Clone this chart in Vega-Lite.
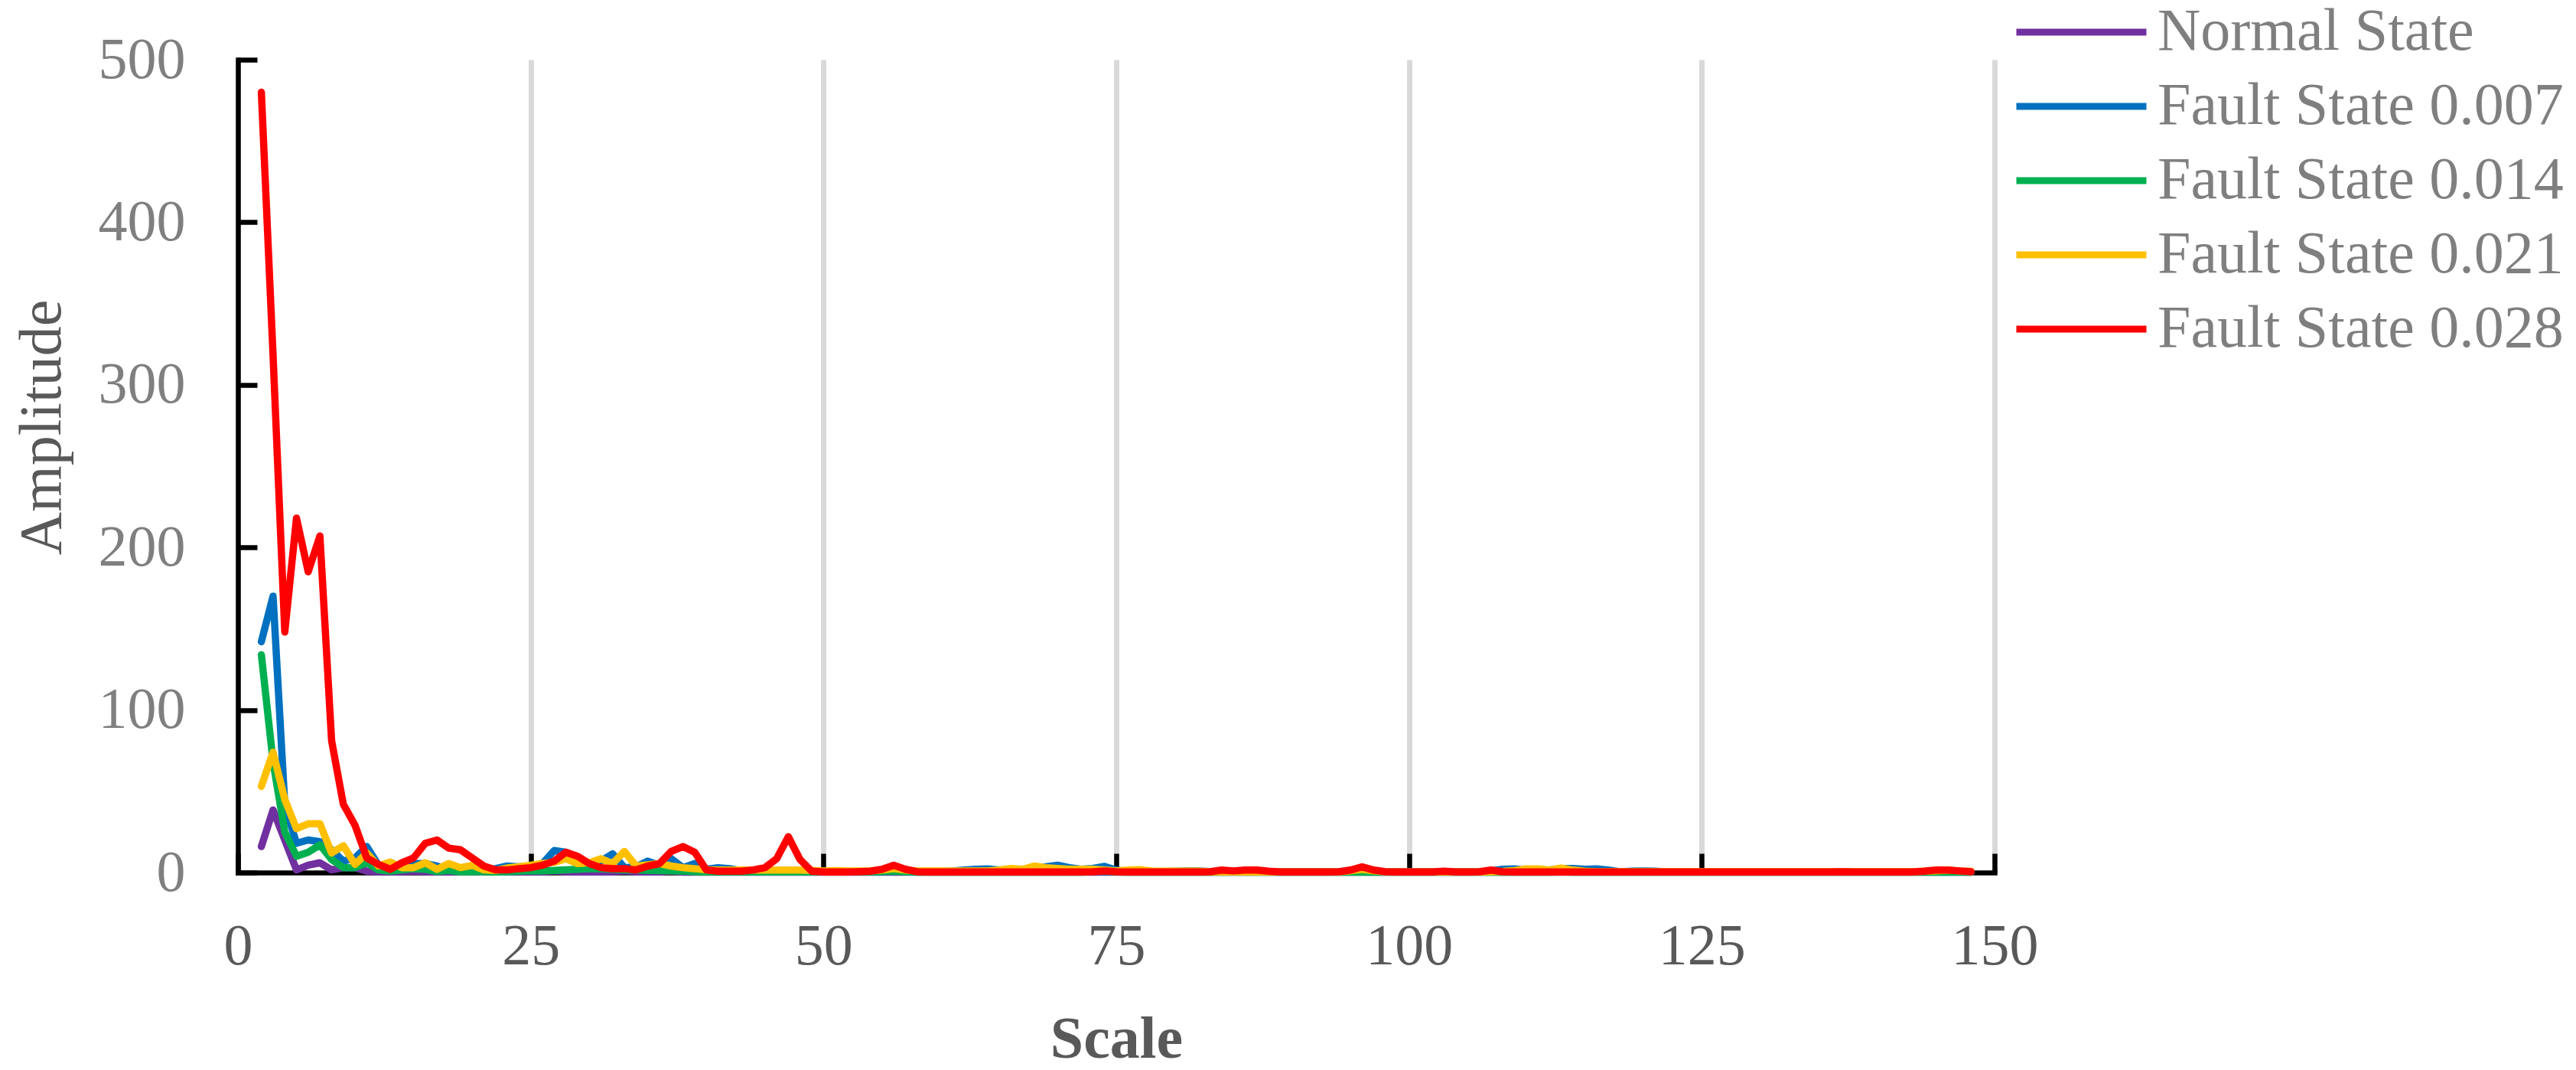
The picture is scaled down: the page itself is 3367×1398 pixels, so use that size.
{"$schema": "https://vega.github.io/schema/vega-lite/v6.json",
  "width": 2296,
  "height": 1062,
  "autosize": {"type": "none"},
  "padding": {"left": 311, "top": 78, "right": 760, "bottom": 258},
  "background": "white",
  "config": {"view": {"stroke": null}, "font": "Liberation Serif"},

  "encoding": {
    "x": {"field": "x", "type": "quantitative", "title": "Scale",
      "scale": {"domain": [0, 150], "nice": false},
      "axis": {"values": [0, 25, 50, 75, 100, 125, 150], "grid": true, "gridColor": "#d9d9d9", "gridWidth": 7,
        "domainColor": "#000000", "domainWidth": 6.5, "domainCap": "square",
        "tickColor": "#000000", "tickWidth": 6.5, "tickSize": -25,
        "labelPadding": 84, "labelFont": "Liberation Serif", "labelFontSize": 76, "labelColor": "#595959",
        "labelFlush": false, "labelOverlap": false,
        "titleFont": "Liberation Serif", "titleFontSize": 78, "titleFontWeight": "bold", "titleColor": "#595959",
        "titleY": 241, "titleBaseline": "alphabetic", "zindex": 0}},
    "y": {"field": "y", "type": "quantitative", "title": "Amplitude",
      "scale": {"domain": [0, 500], "nice": false},
      "axis": {"values": [0, 100, 200, 300, 400, 500], "grid": false,
        "domainColor": "#000000", "domainWidth": 6.5, "domainCap": "square",
        "tickColor": "#000000", "tickWidth": 6.5, "tickSize": -25,
        "labelPadding": 94, "labelFont": "Liberation Serif", "labelFontSize": 76, "labelColor": "#7f7f7f",
        "titleFont": "Liberation Serif", "titleFontSize": 78, "titleFontWeight": "normal", "titleColor": "#595959",
        "titleAngle": -90, "titleX": -233, "titleY": 480, "titleBaseline": "alphabetic", "zindex": 0}}
  },

  "layer": [
    {"data": {"values": [
      {"x":2,"y":16},{"x":3,"y":38.5},{"x":4,"y":20},{"x":5,"y":1.6},{"x":6,"y":4.5},{"x":7,"y":6},{"x":8,"y":1.6},{"x":9,"y":3},{"x":10,"y":3},
      {"x":11,"y":0.8},{"x":12,"y":0.5},{"x":13,"y":0.3},{"x":14,"y":0.5},{"x":15,"y":0.8},{"x":16,"y":0.5},{"x":17,"y":0.3},{"x":18,"y":0.3},{"x":19,"y":0.3},{"x":20,"y":0.3},
      {"x":21,"y":0.3},{"x":22,"y":0.3},{"x":23,"y":0.3},{"x":24,"y":0.3},{"x":25,"y":0.3},{"x":26,"y":0.3},{"x":27,"y":1},{"x":28,"y":0.5},{"x":29,"y":0.3},{"x":30,"y":0.3},
      {"x":31,"y":0.3},{"x":32,"y":0.3},{"x":33,"y":1},{"x":34,"y":0.3},{"x":35,"y":0.3},{"x":36,"y":0.3},{"x":37,"y":1},{"x":38,"y":0.2},{"x":39,"y":0.2},{"x":40,"y":0.2},
      {"x":41,"y":0.2},{"x":42,"y":0.2},{"x":43,"y":0.2},{"x":44,"y":0.2},{"x":45,"y":0.2},{"x":46,"y":0.2},{"x":47,"y":0.2},{"x":48,"y":0.2},{"x":49,"y":0.2},{"x":50,"y":0.2},
      {"x":51,"y":0.2},{"x":52,"y":0.2},{"x":53,"y":0.2},{"x":54,"y":0.2},{"x":55,"y":0.2},{"x":56,"y":0.2},{"x":57,"y":0.2},{"x":58,"y":0.2},{"x":59,"y":0.2},{"x":60,"y":0.2},
      {"x":61,"y":0.2},{"x":62,"y":0.2},{"x":63,"y":0.2},{"x":64,"y":0.2},{"x":65,"y":0.2},{"x":66,"y":0.2},{"x":67,"y":0.2},{"x":68,"y":0.2},{"x":69,"y":0.2},{"x":70,"y":0.2},
      {"x":71,"y":0.2},{"x":72,"y":0.2},{"x":73,"y":0.2},{"x":74,"y":0.2},{"x":75,"y":0.2},{"x":76,"y":0.2},{"x":77,"y":0.2},{"x":78,"y":0.2},{"x":79,"y":0.2},{"x":80,"y":0.2},
      {"x":81,"y":0.2},{"x":82,"y":0.2},{"x":83,"y":0.2},{"x":84,"y":0.2},{"x":85,"y":0.2},{"x":86,"y":0.2},{"x":87,"y":0.2},{"x":88,"y":0.2},{"x":89,"y":0.2},{"x":90,"y":0.2},
      {"x":91,"y":0.2},{"x":92,"y":0.2},{"x":93,"y":0.2},{"x":94,"y":0.2},{"x":95,"y":0.2},{"x":96,"y":0.2},{"x":97,"y":0.2},{"x":98,"y":0.2},{"x":99,"y":0.2},{"x":100,"y":0.2},
      {"x":101,"y":0.2},{"x":102,"y":0.2},{"x":103,"y":0.2},{"x":104,"y":0.2},{"x":105,"y":0.2},{"x":106,"y":0.2},{"x":107,"y":0.2},{"x":108,"y":0.2},{"x":109,"y":0.2},{"x":110,"y":0.2},
      {"x":111,"y":0.2},{"x":112,"y":0.2},{"x":113,"y":0.2},{"x":114,"y":0.2},{"x":115,"y":0.2},{"x":116,"y":0.2},{"x":117,"y":0.2},{"x":118,"y":0.2},{"x":119,"y":0.2},{"x":120,"y":0.2},
      {"x":121,"y":0.2},{"x":122,"y":0.2},{"x":123,"y":0.2},{"x":124,"y":0.2},{"x":125,"y":0.2},{"x":126,"y":0.2},{"x":127,"y":0.2},{"x":128,"y":0.2},{"x":129,"y":0.2},{"x":130,"y":0.2},
      {"x":131,"y":0.2},{"x":132,"y":0.2},{"x":133,"y":0.2},{"x":134,"y":0.2},{"x":135,"y":0.2},{"x":136,"y":0.2},{"x":137,"y":0.2},{"x":138,"y":0.2},{"x":139,"y":0.2},{"x":140,"y":0.2},
      {"x":141,"y":0.2},{"x":142,"y":0.2},{"x":143,"y":0.2},{"x":144,"y":0.2},{"x":145,"y":0.2},{"x":146,"y":0.2},{"x":147,"y":0.2},{"x":148,"y":0.2}]},
     "mark": {"type": "line", "strokeWidth": 9.5, "strokeCap": "round", "strokeJoin": "round"},
     "encoding": {"color": {"datum": "Normal State", "type": "nominal",
       "scale": {"domain": ["Normal State", "Fault State 0.007", "Fault State 0.014", "Fault State 0.021", "Fault State 0.028"],
                 "range": ["#7030A0", "#0070C0", "#00B050", "#FFC000", "#FF0000"]},
       "legend": {"orient": "none", "legendX": 2320, "legendY": -76, "title": null, "padding": 0,
         "symbolType": "stroke", "symbolSize": 28900, "symbolStrokeWidth": 9,
         "labelFont": "Liberation Serif", "labelFontSize": 78, "labelColor": "#7f7f7f", "labelOffset": 10, "labelLimit": 0,
         "rowPadding": 17, "clipHeight": 80}}}},

    {"data": {"values": [
      {"x":2,"y":142},{"x":3,"y":170},{"x":4,"y":42},{"x":5,"y":18},{"x":6,"y":20},{"x":7,"y":19},{"x":8,"y":14},{"x":9,"y":7},{"x":10,"y":9},
      {"x":11,"y":16},{"x":12,"y":4.5},{"x":13,"y":3},{"x":14,"y":4.5},{"x":15,"y":5.5},{"x":16,"y":5.5},{"x":17,"y":4},{"x":18,"y":1.6},{"x":19,"y":1.2},{"x":20,"y":1},
      {"x":21,"y":1.5},{"x":22,"y":2.4},{"x":23,"y":4},{"x":24,"y":3.5},{"x":25,"y":4},{"x":26,"y":5.5},{"x":27,"y":13.5},{"x":28,"y":12.5},{"x":29,"y":7},{"x":30,"y":4.5},
      {"x":31,"y":7},{"x":32,"y":11.5},{"x":33,"y":3},{"x":34,"y":3.5},{"x":35,"y":7},{"x":36,"y":4.5},{"x":37,"y":8.5},{"x":38,"y":3},{"x":39,"y":5.5},{"x":40,"y":2},
      {"x":41,"y":3},{"x":42,"y":2.4},{"x":43,"y":1},{"x":44,"y":1},{"x":45,"y":0.8},{"x":46,"y":0.6},{"x":47,"y":0.5},{"x":48,"y":0.5},{"x":49,"y":0.5},{"x":50,"y":0.5},
      {"x":51,"y":0.4},{"x":52,"y":0.4},{"x":53,"y":0.5},{"x":54,"y":0.5},{"x":55,"y":0.6},{"x":56,"y":0.8},{"x":57,"y":0.6},{"x":58,"y":0.5},{"x":59,"y":0.5},{"x":60,"y":0.6},
      {"x":61,"y":1},{"x":62,"y":1.5},{"x":63,"y":2},{"x":64,"y":2.2},{"x":65,"y":1.5},{"x":66,"y":1},{"x":67,"y":1.5},{"x":68,"y":2.5},{"x":69,"y":3.5},{"x":70,"y":4.5},
      {"x":71,"y":3},{"x":72,"y":2},{"x":73,"y":2.5},{"x":74,"y":3.8},{"x":75,"y":1.5},{"x":76,"y":0.5},{"x":77,"y":0.5},{"x":78,"y":0.4},{"x":79,"y":0.5},{"x":80,"y":0.7},
      {"x":81,"y":1},{"x":82,"y":1},{"x":83,"y":0.6},{"x":84,"y":0.5},{"x":85,"y":0.4},{"x":86,"y":0.4},{"x":87,"y":0.4},{"x":88,"y":0.4},{"x":89,"y":0.4},{"x":90,"y":0.4},
      {"x":91,"y":0.4},{"x":92,"y":0.4},{"x":93,"y":0.4},{"x":94,"y":0.4},{"x":95,"y":0.4},{"x":96,"y":0.4},{"x":97,"y":0.4},{"x":98,"y":0.4},{"x":99,"y":0.4},{"x":100,"y":0.4},
      {"x":101,"y":0.4},{"x":102,"y":0.4},{"x":103,"y":0.4},{"x":104,"y":0.4},{"x":105,"y":0.4},{"x":106,"y":0.4},{"x":107,"y":1},{"x":108,"y":2},{"x":109,"y":2.2},{"x":110,"y":1.5},
      {"x":111,"y":1},{"x":112,"y":1.5},{"x":113,"y":2.5},{"x":114,"y":2.5},{"x":115,"y":2},{"x":116,"y":2.2},{"x":117,"y":1.5},{"x":118,"y":0.5},{"x":119,"y":0.8},{"x":120,"y":1},
      {"x":121,"y":0.8},{"x":122,"y":0.3},{"x":123,"y":0.3},{"x":124,"y":0.3},{"x":125,"y":0.3},{"x":126,"y":0.3},{"x":127,"y":0.3},{"x":128,"y":0.3},{"x":129,"y":0.3},{"x":130,"y":0.3},
      {"x":131,"y":0.3},{"x":132,"y":0.3},{"x":133,"y":0.3},{"x":134,"y":0.3},{"x":135,"y":0.3},{"x":136,"y":0.3},{"x":137,"y":0.3},{"x":138,"y":0.3},{"x":139,"y":0.3},{"x":140,"y":0.3},
      {"x":141,"y":0.3},{"x":142,"y":0.3},{"x":143,"y":0.3},{"x":144,"y":0.3},{"x":145,"y":0.3},{"x":146,"y":0.3},{"x":147,"y":0.3},{"x":148,"y":0.3}]},
     "mark": {"type": "line", "strokeWidth": 9.5, "strokeCap": "round", "strokeJoin": "round"},
     "encoding": {"color": {"datum": "Fault State 0.007", "type": "nominal"}}},

    {"data": {"values": [
      {"x":2,"y":134},{"x":3,"y":68},{"x":4,"y":25},{"x":5,"y":10},{"x":6,"y":12.5},{"x":7,"y":17},{"x":8,"y":8},{"x":9,"y":3},{"x":10,"y":3},
      {"x":11,"y":6},{"x":12,"y":1.6},{"x":13,"y":0.8},{"x":14,"y":1.6},{"x":15,"y":2.4},{"x":16,"y":2},{"x":17,"y":0.6},{"x":18,"y":1.3},{"x":19,"y":0.3},{"x":20,"y":0.5},
      {"x":21,"y":0.5},{"x":22,"y":0.3},{"x":23,"y":0.5},{"x":24,"y":0.8},{"x":25,"y":1},{"x":26,"y":1},{"x":27,"y":1.3},{"x":28,"y":1.6},{"x":29,"y":2},{"x":30,"y":2.4},
      {"x":31,"y":2.4},{"x":32,"y":2},{"x":33,"y":1.6},{"x":34,"y":1.6},{"x":35,"y":1.3},{"x":36,"y":1.2},{"x":37,"y":1},{"x":38,"y":0.8},{"x":39,"y":0.5},{"x":40,"y":0.3},
      {"x":41,"y":0.3},{"x":42,"y":0.3},{"x":43,"y":0.3},{"x":44,"y":0.3},{"x":45,"y":0.3},{"x":46,"y":0.3},{"x":47,"y":0.3},{"x":48,"y":0.3},{"x":49,"y":0.3},{"x":50,"y":0.3},
      {"x":51,"y":0.3},{"x":52,"y":0.3},{"x":53,"y":0.3},{"x":54,"y":0.3},{"x":55,"y":0.6},{"x":56,"y":0.8},{"x":57,"y":0.5},{"x":58,"y":0.2},{"x":59,"y":0.2},{"x":60,"y":0.2},
      {"x":61,"y":0.2},{"x":62,"y":0.2},{"x":63,"y":0.2},{"x":64,"y":0.2},{"x":65,"y":0.2},{"x":66,"y":0.2},{"x":67,"y":0.2},{"x":68,"y":0.2},{"x":69,"y":0.2},{"x":70,"y":0.2},
      {"x":71,"y":0.2},{"x":72,"y":0.2},{"x":73,"y":0.6},{"x":74,"y":0.8},{"x":75,"y":0.4},{"x":76,"y":0.2},{"x":77,"y":0.2},{"x":78,"y":0.2},{"x":79,"y":0.2},{"x":80,"y":0.2},
      {"x":81,"y":0.2},{"x":82,"y":0.2},{"x":83,"y":0.2},{"x":84,"y":0.2},{"x":85,"y":0.2},{"x":86,"y":0.2},{"x":87,"y":0.2},{"x":88,"y":0.2},{"x":89,"y":0.2},{"x":90,"y":0.2},
      {"x":91,"y":0.2},{"x":92,"y":0.2},{"x":93,"y":0.2},{"x":94,"y":0.2},{"x":95,"y":0.2},{"x":96,"y":0.2},{"x":97,"y":0.2},{"x":98,"y":0.2},{"x":99,"y":0.2},{"x":100,"y":0.2},
      {"x":101,"y":0.2},{"x":102,"y":0.2},{"x":103,"y":0.2},{"x":104,"y":0.2},{"x":105,"y":0.2},{"x":106,"y":0.2},{"x":107,"y":0.2},{"x":108,"y":0.2},{"x":109,"y":0.2},{"x":110,"y":0.2},
      {"x":111,"y":0.2},{"x":112,"y":0.2},{"x":113,"y":0.5},{"x":114,"y":0.2},{"x":115,"y":0.2},{"x":116,"y":0.2},{"x":117,"y":0.2},{"x":118,"y":0.2},{"x":119,"y":0.2},{"x":120,"y":0.2},
      {"x":121,"y":0.2},{"x":122,"y":0.2},{"x":123,"y":0.2},{"x":124,"y":0.2},{"x":125,"y":0.2},{"x":126,"y":0.2},{"x":127,"y":0.2},{"x":128,"y":0.2},{"x":129,"y":0.2},{"x":130,"y":0.2},
      {"x":131,"y":0.2},{"x":132,"y":0.2},{"x":133,"y":0.2},{"x":134,"y":0.2},{"x":135,"y":0.2},{"x":136,"y":0.2},{"x":137,"y":0.2},{"x":138,"y":0.2},{"x":139,"y":0.2},{"x":140,"y":0.2},
      {"x":141,"y":0.2},{"x":142,"y":0.2},{"x":143,"y":0.2},{"x":144,"y":0.2},{"x":145,"y":0.2},{"x":146,"y":0.2},{"x":147,"y":0.2},{"x":148,"y":0.2}]},
     "mark": {"type": "line", "strokeWidth": 9.5, "strokeCap": "round", "strokeJoin": "round"},
     "encoding": {"color": {"datum": "Fault State 0.014", "type": "nominal"}}},

    {"data": {"values": [
      {"x":2,"y":53},{"x":3,"y":74},{"x":4,"y":45},{"x":5,"y":27},{"x":6,"y":30},{"x":7,"y":30},{"x":8,"y":12},{"x":9,"y":16.5},{"x":10,"y":5},
      {"x":11,"y":12},{"x":12,"y":4},{"x":13,"y":6.5},{"x":14,"y":3},{"x":15,"y":3},{"x":16,"y":6},{"x":17,"y":2},{"x":18,"y":5.5},{"x":19,"y":3},{"x":20,"y":4.4},
      {"x":21,"y":1.6},{"x":22,"y":1.3},{"x":23,"y":2.8},{"x":24,"y":3.5},{"x":25,"y":4.5},{"x":26,"y":5.5},{"x":27,"y":6.3},{"x":28,"y":8.5},{"x":29,"y":5.5},{"x":30,"y":6},
      {"x":31,"y":8.5},{"x":32,"y":5.5},{"x":33,"y":13},{"x":34,"y":4},{"x":35,"y":4.7},{"x":36,"y":5.5},{"x":37,"y":4},{"x":38,"y":3},{"x":39,"y":2.4},{"x":40,"y":1.6},
      {"x":41,"y":1.5},{"x":42,"y":1.5},{"x":43,"y":1.5},{"x":44,"y":1.5},{"x":45,"y":1.5},{"x":46,"y":1.5},{"x":47,"y":1.5},{"x":48,"y":1.5},{"x":49,"y":1.3},{"x":50,"y":1},
      {"x":51,"y":1.2},{"x":52,"y":1},{"x":53,"y":1},{"x":54,"y":1},{"x":55,"y":1.5},{"x":56,"y":2.5},{"x":57,"y":1.5},{"x":58,"y":1},{"x":59,"y":1},{"x":60,"y":1},
      {"x":61,"y":1},{"x":62,"y":1},{"x":63,"y":1},{"x":64,"y":1},{"x":65,"y":1.5},{"x":66,"y":2.5},{"x":67,"y":2},{"x":68,"y":4},{"x":69,"y":3},{"x":70,"y":2.5},
      {"x":71,"y":2},{"x":72,"y":2},{"x":73,"y":2},{"x":74,"y":1.5},{"x":75,"y":1},{"x":76,"y":1.5},{"x":77,"y":1.8},{"x":78,"y":1},{"x":79,"y":0.8},{"x":80,"y":0.8},
      {"x":81,"y":0.8},{"x":82,"y":0.8},{"x":83,"y":0.5},{"x":84,"y":0.3},{"x":85,"y":0.3},{"x":86,"y":0.3},{"x":87,"y":0.3},{"x":88,"y":0.3},{"x":89,"y":0.3},{"x":90,"y":0.3},
      {"x":91,"y":0.3},{"x":92,"y":0.3},{"x":93,"y":0.3},{"x":94,"y":0.5},{"x":95,"y":1},{"x":96,"y":2},{"x":97,"y":1},{"x":98,"y":0.5},{"x":99,"y":0.3},{"x":100,"y":0.3},
      {"x":101,"y":0.3},{"x":102,"y":0.3},{"x":103,"y":0.3},{"x":104,"y":0.3},{"x":105,"y":0.3},{"x":106,"y":0.3},{"x":107,"y":0.5},{"x":108,"y":0.7},{"x":109,"y":1.2},{"x":110,"y":2.2},
      {"x":111,"y":2.2},{"x":112,"y":1.5},{"x":113,"y":2.8},{"x":114,"y":1.5},{"x":115,"y":0.8},{"x":116,"y":0.5},{"x":117,"y":0.5},{"x":118,"y":0.5},{"x":119,"y":0.5},{"x":120,"y":0.5},
      {"x":121,"y":0.5},{"x":122,"y":0.5},{"x":123,"y":0.5},{"x":124,"y":0.5},{"x":125,"y":0.5},{"x":126,"y":0.5},{"x":127,"y":0.5},{"x":128,"y":0.5},{"x":129,"y":0.5},{"x":130,"y":0.5},
      {"x":131,"y":0.5},{"x":132,"y":0.5},{"x":133,"y":0.5},{"x":134,"y":0.5},{"x":135,"y":0.5},{"x":136,"y":0.5},{"x":137,"y":0.5},{"x":138,"y":0.5},{"x":139,"y":0.5},{"x":140,"y":0.5},
      {"x":141,"y":0.5},{"x":142,"y":0.5},{"x":143,"y":0.5},{"x":144,"y":0.8},{"x":145,"y":1},{"x":146,"y":1.5},{"x":147,"y":1},{"x":148,"y":0.8}]},
     "mark": {"type": "line", "strokeWidth": 9.5, "strokeCap": "round", "strokeJoin": "round"},
     "encoding": {"color": {"datum": "Fault State 0.021", "type": "nominal"}}},

    {"data": {"values": [
      {"x":2,"y":480},{"x":3,"y":318},{"x":4,"y":148},{"x":5,"y":218},{"x":6,"y":185},{"x":7,"y":207},{"x":8,"y":81},{"x":9,"y":42},{"x":10,"y":29},
      {"x":11,"y":9},{"x":12,"y":5},{"x":13,"y":2},{"x":14,"y":6},{"x":15,"y":9},{"x":16,"y":18},{"x":17,"y":20},{"x":18,"y":15},{"x":19,"y":14},{"x":20,"y":9},
      {"x":21,"y":4},{"x":22,"y":1.6},{"x":23,"y":1.6},{"x":24,"y":2.4},{"x":25,"y":3},{"x":26,"y":4.5},{"x":27,"y":7},{"x":28,"y":12.5},{"x":29,"y":10},{"x":30,"y":5.5},
      {"x":31,"y":3},{"x":32,"y":2.4},{"x":33,"y":2.4},{"x":34,"y":1.6},{"x":35,"y":4},{"x":36,"y":5.5},{"x":37,"y":13},{"x":38,"y":16},{"x":39,"y":12.5},{"x":40,"y":1.6},
      {"x":41,"y":0.8},{"x":42,"y":0.8},{"x":43,"y":0.8},{"x":44,"y":1.6},{"x":45,"y":3},{"x":46,"y":8.5},{"x":47,"y":22},{"x":48,"y":8},{"x":49,"y":0.8},{"x":50,"y":0.3},
      {"x":51,"y":0.3},{"x":52,"y":0.3},{"x":53,"y":0.5},{"x":54,"y":0.8},{"x":55,"y":2},{"x":56,"y":4.5},{"x":57,"y":2},{"x":58,"y":0.5},{"x":59,"y":0.3},{"x":60,"y":0.3},
      {"x":61,"y":0.3},{"x":62,"y":0.3},{"x":63,"y":0.3},{"x":64,"y":0.3},{"x":65,"y":0.3},{"x":66,"y":0.3},{"x":67,"y":0.3},{"x":68,"y":0.3},{"x":69,"y":0.3},{"x":70,"y":0.3},
      {"x":71,"y":0.3},{"x":72,"y":0.3},{"x":73,"y":0.5},{"x":74,"y":1},{"x":75,"y":0.5},{"x":76,"y":0.3},{"x":77,"y":0.3},{"x":78,"y":0.3},{"x":79,"y":0.3},{"x":80,"y":0.3},
      {"x":81,"y":0.3},{"x":82,"y":0.3},{"x":83,"y":0.5},{"x":84,"y":1.5},{"x":85,"y":1},{"x":86,"y":1.5},{"x":87,"y":1.5},{"x":88,"y":0.8},{"x":89,"y":0.3},{"x":90,"y":0.3},
      {"x":91,"y":0.3},{"x":92,"y":0.3},{"x":93,"y":0.3},{"x":94,"y":0.5},{"x":95,"y":1.5},{"x":96,"y":3.5},{"x":97,"y":1.5},{"x":98,"y":0.5},{"x":99,"y":0.3},{"x":100,"y":0.3},
      {"x":101,"y":0.3},{"x":102,"y":0.3},{"x":103,"y":0.8},{"x":104,"y":0.3},{"x":105,"y":0.3},{"x":106,"y":0.5},{"x":107,"y":1.5},{"x":108,"y":0.5},{"x":109,"y":0.3},{"x":110,"y":0.3},
      {"x":111,"y":0.3},{"x":112,"y":0.3},{"x":113,"y":0.3},{"x":114,"y":0.3},{"x":115,"y":0.3},{"x":116,"y":0.3},{"x":117,"y":0.3},{"x":118,"y":0.3},{"x":119,"y":0.3},{"x":120,"y":0.3},
      {"x":121,"y":0.3},{"x":122,"y":0.3},{"x":123,"y":0.3},{"x":124,"y":0.3},{"x":125,"y":0.3},{"x":126,"y":0.3},{"x":127,"y":0.3},{"x":128,"y":0.3},{"x":129,"y":0.3},{"x":130,"y":0.3},
      {"x":131,"y":0.3},{"x":132,"y":0.3},{"x":133,"y":0.3},{"x":134,"y":0.3},{"x":135,"y":0.3},{"x":136,"y":0.3},{"x":137,"y":0.5},{"x":138,"y":0.3},{"x":139,"y":0.3},{"x":140,"y":0.3},
      {"x":141,"y":0.3},{"x":142,"y":0.3},{"x":143,"y":0.3},{"x":144,"y":0.8},{"x":145,"y":1.5},{"x":146,"y":1.5},{"x":147,"y":1},{"x":148,"y":0.5}]},
     "mark": {"type": "line", "strokeWidth": 9.5, "strokeCap": "round", "strokeJoin": "round"},
     "encoding": {"color": {"datum": "Fault State 0.028", "type": "nominal"}}}
  ]
}
